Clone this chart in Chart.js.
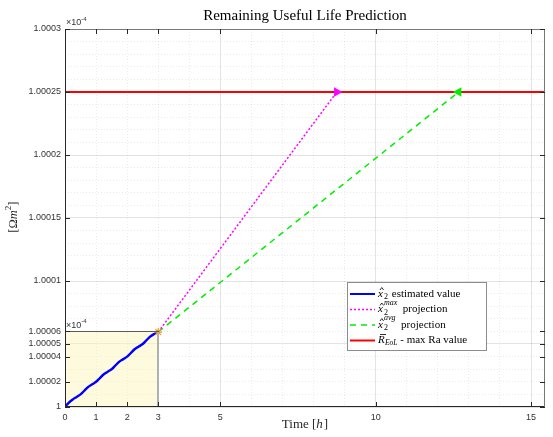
<!DOCTYPE html>
<html>
<head>
<meta charset="utf-8">
<script src="https://cdn.jsdelivr.net/npm/chart.js@4.4.0/dist/chart.umd.min.js"></script>
<style>
  body { margin: 0; background: #fff; }
  #wrap { width: 553px; height: 437px; }
</style>
</head>
<body>
<div id="wrap"><canvas id="myChart" width="553" height="437"></canvas></div>
<script>
// estimated value x2 (0..3 h)
let estTime = [0, 0.125, 0.25, 0.375, 0.5, 0.625, 0.75, 0.875, 1, 1.125, 1.25, 1.375, 1.5,
  1.625, 1.75, 1.875, 2, 2.125, 2.25, 2.375, 2.5, 2.625, 2.75, 2.875, 3];
let estValue = [1, 1.0000035, 1.000006, 1.000008, 1.00001, 1.000013, 1.000016, 1.000018, 1.00002,
  1.000023, 1.000026, 1.000028, 1.00003, 1.000033, 1.000036, 1.000038, 1.00004, 1.000043,
  1.000046, 1.000048, 1.00005, 1.000053, 1.000056, 1.000058, 1.0000595];

// projections and threshold
let projStart = [3, 1.0000595];
let projMaxEnd = [8.75, 1.00025];
let projAvgEnd = [12.67, 1.00025];
let eolValue = 1.00025;
let xMax = 15.45;

// inset box
let insetTop = 1.00006;
let insetRight = 3;

// tick labels
let xTickLabels = [0, 1, 2, 3, 5, 10, 15];
let yTickValues = [1, 1.00002, 1.00004, 1.00005, 1.00006, 1.0001, 1.00015, 1.0002, 1.00025, 1.0003];
let yTickText = ['1', '1.00002', '1.00004', '1.00005', '1.00006', '1.0001', '1.00015', '1.0002', '1.00025', '1.0003'];

Chart.defaults.font.family = "'Liberation Sans', Arial, sans-serif";
Chart.defaults.font.size = 9;
Chart.defaults.color = '#333333';

let near = (a, b) => Math.abs(a - b) < 1e-9;
let yLabelFor = (v) => {
  let i = yTickValues.findIndex((t) => near(t, v));
  return i >= 0 ? yTickText[i] : '';
};

// draw text pieces: title, axis labels, legend, box
let textPlugin = {
  id: 'texts',
  afterDraw(chart) {
    let ctx = chart.ctx;
    let a = chart.chartArea;
    let xs = chart.scales.x, ys = chart.scales.y;
    ctx.save();

    // inset edges
    let ix = Math.round(xs.getPixelForValue(insetRight));
    let iy = Math.round(ys.getPixelForValue(insetTop)) + 0.5;
    ctx.strokeStyle = '#b0b0b0';
    ctx.lineWidth = 2;
    ctx.beginPath();
    ctx.moveTo(ix, iy); ctx.lineTo(ix, a.bottom);
    ctx.stroke();
    ctx.strokeStyle = '#5a5a5a';
    ctx.lineWidth = 1;
    ctx.beginPath();
    ctx.moveTo(a.left, iy); ctx.lineTo(ix + 1, iy);
    ctx.stroke();

    // box + inward ticks
    ctx.strokeStyle = '#262626';
    ctx.lineWidth = 1;
    ctx.beginPath();
    ctx.moveTo(a.left + 0.5, a.top); ctx.lineTo(a.left + 0.5, a.bottom - 0.5); ctx.lineTo(a.right, a.bottom - 0.5);
    ctx.stroke();
    ctx.strokeStyle = '#777';
    ctx.beginPath();
    ctx.moveTo(a.left, a.top + 0.5); ctx.lineTo(a.right - 0.5, a.top + 0.5); ctx.lineTo(a.right - 0.5, a.bottom);
    ctx.stroke();
    ctx.strokeStyle = '#262626';
    ctx.beginPath();
    yTickValues.forEach((v) => {
      let py = Math.round(ys.getPixelForValue(v)) + 0.5;
      ctx.moveTo(a.left, py); ctx.lineTo(a.left + 5, py);
      ctx.moveTo(a.right, py); ctx.lineTo(a.right - 5, py);
    });
    xTickLabels.forEach((v) => {
      let px = Math.round(xs.getPixelForValue(v)) + 0.5;
      ctx.moveTo(px, a.bottom); ctx.lineTo(px, a.bottom - 5);
      ctx.moveTo(px, a.top); ctx.lineTo(px, a.top + 5);
    });
    ctx.stroke();

    // title
    ctx.fillStyle = '#000';
    ctx.textAlign = 'center';
    ctx.textBaseline = 'middle';
    ctx.font = "15px 'Liberation Serif', serif";
    ctx.fillText('Remaining Useful Life Prediction', (a.left + a.right) / 2, 16);

    // x label
    let f13 = "13px 'Liberation Serif', serif";
    let i13 = "italic 13px 'Liberation Serif', serif";
    ctx.font = f13;
    ctx.fillStyle = '#262626';
    let w1 = ctx.measureText('Time [').width;
    ctx.font = i13;
    let w2 = ctx.measureText('h').width + 1;
    ctx.font = f13;
    let w3 = ctx.measureText(']').width;
    let sx = (a.left + a.right) / 2 - (w1 + w2 + w3) / 2;
    ctx.textAlign = 'left';
    ctx.fillText('Time [', sx, 425);
    ctx.font = i13;
    ctx.fillText('h', sx + w1, 425);
    ctx.font = f13;
    ctx.fillText(']', sx + w1 + w2, 425);

    // y label
    ctx.save();
    ctx.translate(14, 216);
    ctx.rotate(-Math.PI / 2);
    ctx.textAlign = 'left';
    ctx.font = "12.5px 'Liberation Serif', serif";
    let yw = ctx.measureText('[Ωm]').width + 6;
    let yx = -yw / 2;
    ctx.fillText('[Ω', yx, 0);
    yx += ctx.measureText('[Ω').width;
    ctx.font = "italic 12.5px 'Liberation Serif', serif";
    ctx.fillText('m', yx, 0);
    yx += ctx.measureText('m').width;
    ctx.font = "9px 'Liberation Serif', serif";
    ctx.fillText('2', yx, -5);
    yx += ctx.measureText('2').width;
    ctx.font = "12.5px 'Liberation Serif', serif";
    ctx.fillText(']', yx, 0);
    ctx.restore();

    // exponent labels
    let expo = (x, y) => {
      ctx.font = "9px 'Liberation Sans', sans-serif";
      ctx.fillStyle = '#333';
      ctx.textAlign = 'left';
      ctx.fillText('×10', x, y);
      let w = ctx.measureText('×10').width;
      ctx.font = "6px 'Liberation Sans', sans-serif";
      ctx.fillText('-4', x + w, y - 4);
    };
    expo(a.left + 1, a.top - 6);
    expo(a.left + 1, ys.getPixelForValue(insetTop) - 6);

    // legend
    let lx = 347, ly = 282, lw = 139, lh = 68;
    ctx.fillStyle = '#fff';
    ctx.fillRect(lx, ly, lw, lh);
    ctx.strokeStyle = '#8c8c8c';
    ctx.lineWidth = 1;
    ctx.strokeRect(lx + 0.5, ly + 0.5, lw, lh);
    let rows = [
      { color: '#0000ff', dash: [], width: 2, sup: '', rest: ' estimated value', kind: 'x' },
      { color: '#ff00ff', dash: [2, 2], width: 1.5, sup: 'max', rest: '  projection', kind: 'x' },
      { color: '#00ee00', dash: [6, 5], width: 1.5, sup: 'avg', rest: '  projection', kind: 'x' },
      { color: '#ff0000', dash: [], width: 2, sup: '', rest: ' - max Ra value', kind: 'R' }
    ];
    rows.forEach((r, i) => {
      let ry = ly + 12 + i * 15.5;
      ctx.strokeStyle = r.color;
      ctx.lineWidth = r.width;
      ctx.setLineDash(r.dash);
      ctx.beginPath();
      ctx.moveTo(lx + 3, ry); ctx.lineTo(lx + 28, ry);
      ctx.stroke();
      ctx.setLineDash([]);
      ctx.fillStyle = '#000';
      ctx.strokeStyle = '#000';
      ctx.textAlign = 'left';
      ctx.textBaseline = 'middle';
      let tx = lx + 31;
      if (r.kind === 'x') {
        ctx.font = "italic 11px 'Liberation Serif', serif";
        ctx.fillText('x', tx, ry);
        ctx.lineWidth = 0.8;
        ctx.beginPath();
        ctx.moveTo(tx + 2, ry - 4); ctx.lineTo(tx + 3.8, ry - 6.5); ctx.lineTo(tx + 5.6, ry - 4);
        ctx.stroke();
        tx += 6;
        ctx.font = "8px 'Liberation Serif', serif";
        ctx.fillText('2', tx, ry + 3);
        let sw = 5;
        if (r.sup) {
          ctx.font = "italic 8px 'Liberation Serif', serif";
          ctx.fillText(r.sup, tx, ry - 7);
          sw = ctx.measureText(r.sup).width;
        }
        tx += sw;
      } else {
        ctx.font = "italic 11px 'Liberation Serif', serif";
        ctx.fillText('R', tx, ry);
        ctx.fillRect(tx + 2, ry - 6.5, 6, 0.8);
        tx += 7;
        ctx.font = "italic 7.5px 'Liberation Serif', serif";
        ctx.fillText('EoL', tx, ry + 3);
        tx += ctx.measureText('EoL').width;
      }
      ctx.font = "11px 'Liberation Serif', serif";
      ctx.fillText(r.rest, tx, ry);
    });

    ctx.restore();
  }
};

let estData = estTime.map((t, i) => ({ x: t, y: estValue[i] }));

let ctx = document.getElementById('myChart').getContext('2d');
let myChart = new Chart(ctx, {
  type: 'line',
  data: {
    datasets: [
      {
        label: 'estimated',
        data: estData,
        borderColor: '#0000ff',
        borderWidth: 2.4,
        pointRadius: 0,
        tension: 0.4,
        order: 1
      },
      {
        label: 'star',
        data: [{ x: projStart[0], y: projStart[1] }],
        showLine: false,
        pointStyle: 'star',
        pointRadius: 4,
        borderColor: '#e89a1c',
        borderWidth: 1.2,
        order: 0
      },
      {
        label: 'max',
        data: [{ x: projStart[0], y: projStart[1] }, { x: projMaxEnd[0], y: projMaxEnd[1] }],
        borderColor: '#ff00ff',
        borderWidth: 1.5,
        borderDash: [2, 2],
        pointRadius: [0, 4],
        pointStyle: 'triangle',
        rotation: 90,
        pointBackgroundColor: '#ff00ff',
        pointBorderColor: '#ff00ff',
        order: 2
      },
      {
        label: 'avg',
        data: [{ x: projStart[0], y: projStart[1] }, { x: projAvgEnd[0], y: projAvgEnd[1] }],
        borderColor: '#00ee00',
        borderWidth: 1.5,
        borderDash: [6, 5],
        pointRadius: [0, 4],
        pointStyle: 'triangle',
        rotation: -90,
        pointBackgroundColor: '#00ee00',
        pointBorderColor: '#00ee00',
        order: 3
      },
      {
        label: 'eol',
        data: [{ x: 0, y: eolValue }, { x: xMax, y: eolValue }],
        borderColor: '#ff0000',
        borderWidth: 2,
        pointRadius: 0,
        order: 4
      },
      {
        label: 'inset',
        data: [{ x: 0, y: insetTop }, { x: insetRight, y: insetTop }, { x: insetRight, y: 1 }],
        borderColor: 'rgba(0,0,0,0)',
        borderWidth: 0,
        backgroundColor: 'rgba(253,246,190,0.5)',
        fill: 'start',
        pointRadius: 0,
        order: 10
      }
    ]
  },
  options: {
    responsive: false,
    animation: false,
    layout: { padding: { top: 29, right: 8, left: 0, bottom: 0 } },
    plugins: { legend: { display: false }, tooltip: { enabled: false }, title: { display: false } },
    scales: {
      x: {
        type: 'linear',
        min: 0,
        max: xMax,
        afterBuildTicks: (scale) => {
          let t = [];
          for (let i = 0; i <= 15; i++) t.push({ value: i });
          scale.ticks = t;
        },
        afterFit: (scale) => { scale.height = 30; },
        ticks: {
          autoSkip: false,
          maxRotation: 0,
          padding: 5,
          callback: (v) => (xTickLabels.includes(v) ? String(v) : '')
        },
        grid: {
          drawTicks: false,
          color: (c) => (c.tick && c.tick.value % 5 === 0 ? 'rgba(0,0,0,0.11)' : 'rgba(0,0,0,0.08)'),
          lineWidth: 1
        },
        border: {
          display: false,
          dash: (c) => (c.tick && c.tick.value % 5 === 0 ? [] : [1, 2])
        }
      },
      y: {
        type: 'linear',
        min: 1,
        max: 1.0003,
        afterBuildTicks: (scale) => {
          let t = [];
          for (let i = 0; i <= 30; i++) t.push({ value: 1 + i * 0.00001 });
          scale.ticks = t;
        },
        afterFit: (scale) => { scale.width = 65; },
        ticks: {
          autoSkip: false,
          padding: 4,
          callback: (v) => yLabelFor(v)
        },
        grid: {
          drawTicks: false,
          color: (c) => {
            let k = c.tick ? Math.round((c.tick.value - 1) * 100000) : 0;
            return k % 5 === 0 ? 'rgba(0,0,0,0.11)' : 'rgba(0,0,0,0.08)';
          },
          lineWidth: 1
        },
        border: {
          display: false,
          dash: (c) => {
            let k = c.tick ? Math.round((c.tick.value - 1) * 100000) : 0;
            return k % 5 === 0 ? [] : [1, 2];
          }
        }
      }
    }
  },
  plugins: [textPlugin]
});
</script>
</body>
</html>
